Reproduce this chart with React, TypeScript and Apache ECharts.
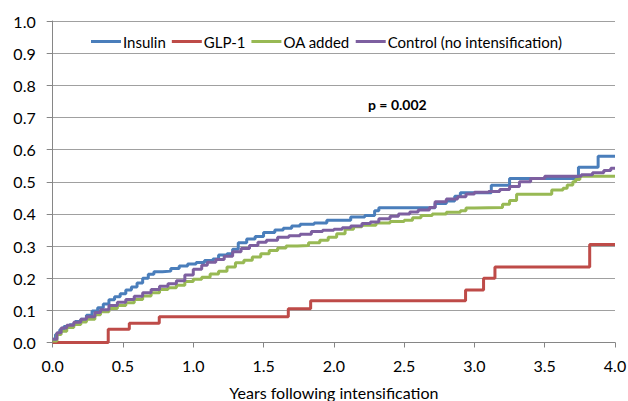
import React, { useEffect, useRef } from "react";
import * as echarts from "echarts";

const seriesNames = ["Insulin", "GLP-1", "OA added", "Control (no intensification)"];
const seriesColors = ["#4a7ebb", "#be4b48", "#98b954", "#7d5fa0"];

const insulinX = [0, 0.02, 0.05, 0.08, 0.12, 0.16, 0.2, 0.24, 0.28, 0.32, 0.36, 0.4, 0.44, 0.48, 0.52, 0.56, 0.6, 0.64, 0.68, 0.72, 0.78, 0.84, 0.9, 0.96, 1.02, 1.08, 1.14, 1.18, 1.24, 1.28, 1.32, 1.38, 1.44, 1.5, 1.58, 1.64, 1.7, 1.76, 1.86, 1.95, 2.12, 2.22, 2.29, 2.32, 2.72, 2.8, 2.86, 2.9, 3.12, 3.25, 3.74, 3.88, 4.0];
const insulinY = [0.01, 0.025, 0.04, 0.05, 0.055, 0.065, 0.072, 0.085, 0.098, 0.108, 0.12, 0.133, 0.142, 0.152, 0.163, 0.173, 0.185, 0.2, 0.212, 0.22, 0.222, 0.23, 0.238, 0.244, 0.249, 0.255, 0.26, 0.272, 0.276, 0.29, 0.31, 0.322, 0.33, 0.342, 0.35, 0.355, 0.362, 0.368, 0.372, 0.38, 0.39, 0.395, 0.41, 0.419, 0.432, 0.44, 0.455, 0.466, 0.489, 0.51, 0.545, 0.579, 0.579];

const glpX = [0, 0.395, 0.545, 0.758, 1.676, 1.835, 2.937, 3.065, 3.146, 3.82, 4.0];
const glpY = [0, 0.041, 0.06, 0.08, 0.105, 0.13, 0.163, 0.2, 0.235, 0.305, 0.305];

const oaX = [0, 0.03, 0.06, 0.1, 0.15, 0.2, 0.24, 0.3, 0.34, 0.4, 0.46, 0.52, 0.58, 0.64, 0.7, 0.76, 0.82, 0.88, 0.94, 1.0, 1.06, 1.12, 1.18, 1.24, 1.3, 1.36, 1.42, 1.48, 1.54, 1.6, 1.66, 1.74, 1.82, 1.9, 1.96, 2.02, 2.08, 2.14, 2.2, 2.3, 2.4, 2.5, 2.56, 2.62, 2.7, 2.8, 2.9, 2.94, 3.0, 3.2, 3.25, 3.3, 3.55, 3.63, 3.66, 3.7, 3.72, 3.75, 4.0];
const oaY = [0.005, 0.025, 0.035, 0.047, 0.056, 0.064, 0.072, 0.086, 0.096, 0.106, 0.115, 0.124, 0.134, 0.145, 0.155, 0.165, 0.17, 0.178, 0.19, 0.197, 0.203, 0.213, 0.222, 0.235, 0.248, 0.256, 0.266, 0.276, 0.286, 0.294, 0.3, 0.302, 0.31, 0.318, 0.327, 0.338, 0.352, 0.36, 0.365, 0.372, 0.376, 0.38, 0.388, 0.395, 0.4, 0.405, 0.41, 0.418, 0.42, 0.43, 0.442, 0.461, 0.474, 0.48, 0.49, 0.5, 0.507, 0.517, 0.517];

const ctrlX = [0, 0.03, 0.06, 0.1, 0.15, 0.2, 0.24, 0.3, 0.34, 0.4, 0.46, 0.52, 0.58, 0.64, 0.7, 0.76, 0.82, 0.88, 0.94, 1.0, 1.06, 1.1, 1.16, 1.22, 1.28, 1.34, 1.4, 1.46, 1.52, 1.6, 1.68, 1.76, 1.84, 1.92, 2.0, 2.06, 2.12, 2.2, 2.26, 2.32, 2.4, 2.46, 2.54, 2.6, 2.68, 2.72, 2.8, 2.88, 2.94, 3.0, 3.1, 3.18, 3.25, 3.32, 3.4, 3.5, 3.76, 3.84, 3.92, 3.97, 4.0];
const ctrlY = [0.01, 0.03, 0.045, 0.054, 0.063, 0.072, 0.08, 0.093, 0.102, 0.115, 0.125, 0.134, 0.144, 0.155, 0.165, 0.175, 0.183, 0.192, 0.21, 0.228, 0.24, 0.25, 0.258, 0.268, 0.282, 0.292, 0.302, 0.312, 0.318, 0.327, 0.332, 0.337, 0.345, 0.349, 0.352, 0.357, 0.362, 0.37, 0.375, 0.385, 0.393, 0.4, 0.406, 0.412, 0.42, 0.438, 0.446, 0.453, 0.462, 0.467, 0.47, 0.476, 0.485, 0.5, 0.51, 0.517, 0.522, 0.528, 0.535, 0.542, 0.542];

const pLabel = "p = 0.002";
const xTitle = "Years following intensification";

const zip = (xs: number[], ys: number[]) => xs.map((x, i) => [x, ys[i]]);

export default function App() {
  const ref = useRef<HTMLDivElement>(null);
  useEffect(() => {
    if (!ref.current) return;
    const chart = echarts.init(ref.current, null, { renderer: "svg" });
    const font = "Lato";
    const datasets = [zip(insulinX, insulinY), zip(glpX, glpY), zip(oaX, oaY), zip(ctrlX, ctrlY)];
    chart.setOption({
      animation: false,
      backgroundColor: "#ffffff",
      grid: { left: 52.7, right: 13, top: 21, bottom: 58.5, containLabel: false, outerBoundsMode: "none" },
      legend: {
        left: 86,
        top: 29,
        itemWidth: 30,
        itemHeight: 3,
        itemGap: 6,
        icon: "rect",
        textStyle: { fontFamily: font, fontSize: 15, color: "#000", padding: [0, 0, 0, -3] },
        data: seriesNames,
      },
      xAxis: {
        type: "value",
        min: 0,
        max: 4,
        interval: 0.5,
        name: xTitle,
        nameLocation: "middle",
        nameGap: 42,
        nameTextStyle: { fontFamily: font, fontSize: 16, color: "#000" },
        axisLine: { show: true, lineStyle: { color: "#868686", width: 1 } },
        axisTick: { show: true, length: 5, lineStyle: { color: "#868686" } },
        axisLabel: { fontFamily: font, fontSize: 16, color: "#000", margin: 15, formatter: (v: number) => v.toFixed(1) },
        splitLine: { show: false },
      },
      yAxis: {
        type: "value",
        min: 0,
        max: 1,
        interval: 0.1,
        axisLine: { show: true, lineStyle: { color: "#868686", width: 1 } },
        axisTick: { show: true, length: 6, lineStyle: { color: "#868686" } },
        axisLabel: { fontFamily: font, fontSize: 16, color: "#000", margin: 17, formatter: (v: number) => v.toFixed(1) },
        splitLine: { show: true, lineStyle: { color: "#a0a0a0", width: 1 } },
      },
      graphic: [
        {
          type: "text",
          left: 368,
          top: 97,
          style: { text: pLabel, fontFamily: font, fontSize: 14, fontWeight: "bold", fill: "#000" },
        },
      ],
      series: seriesNames.map((name, i) => ({
        name,
        type: "line",
        step: "end",
        symbol: "none",
        data: datasets[i],
        color: seriesColors[i],
        lineStyle: { color: seriesColors[i], width: 3 },
      })),
    });
    return () => chart.dispose();
  }, []);
  return <div ref={ref} style={{ position: "absolute", left: 0, top: 0, width: 628, height: 401 }} />;
}
